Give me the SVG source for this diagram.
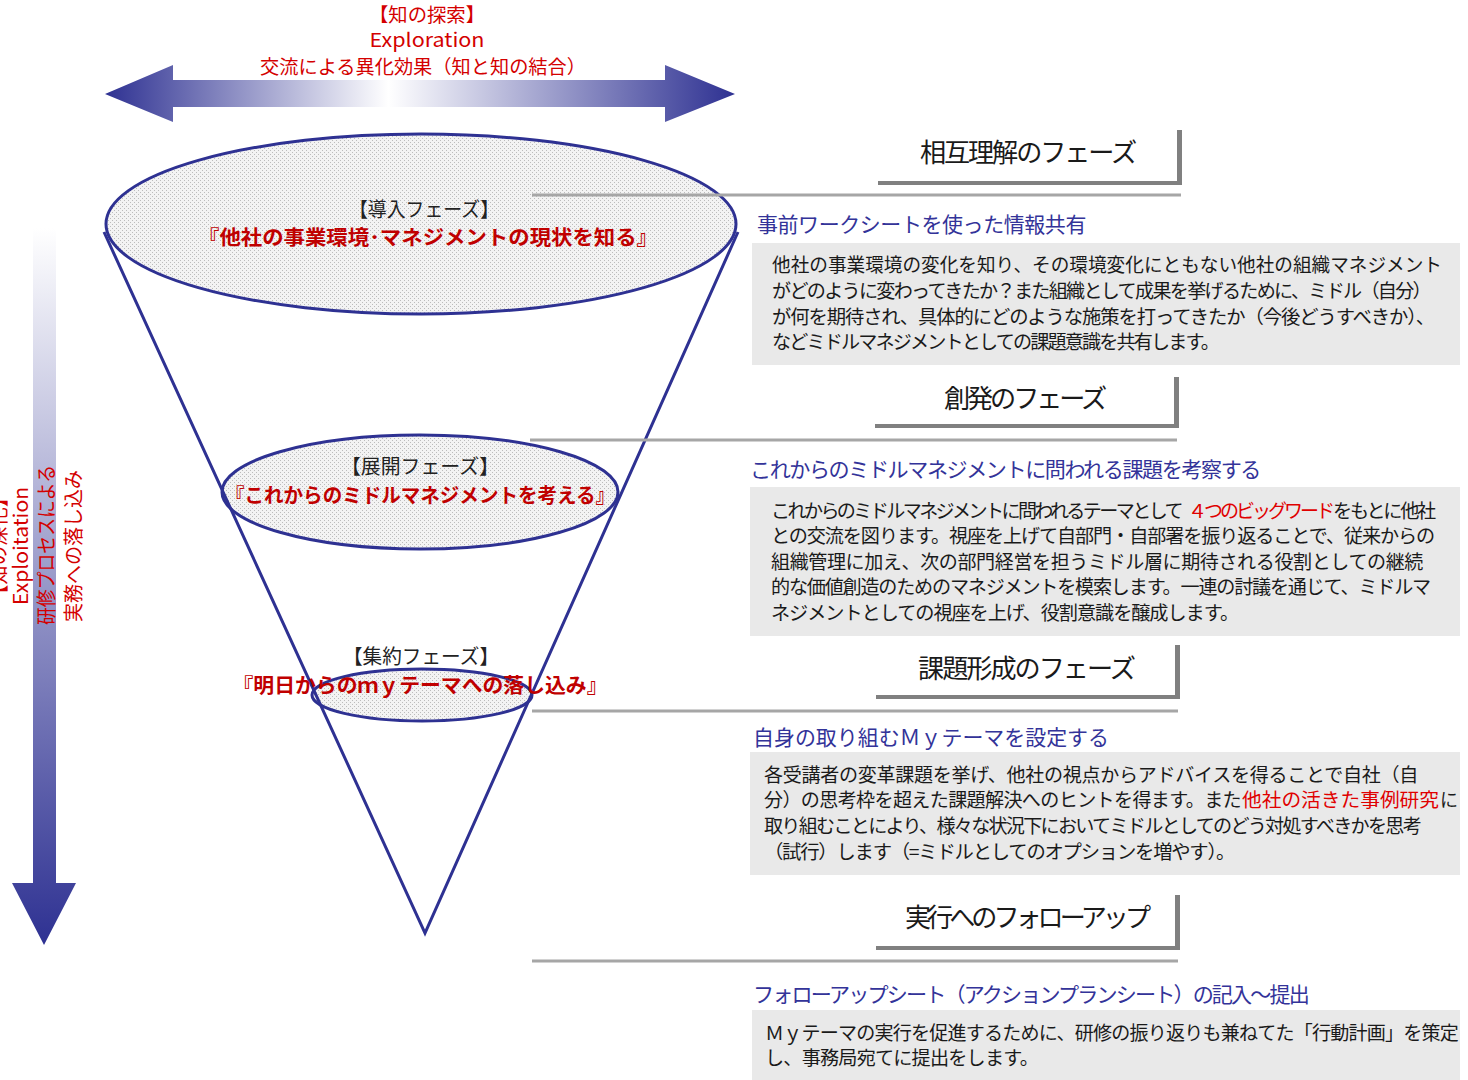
<svg xmlns="http://www.w3.org/2000/svg" width="1468" height="1080" viewBox="0 0 1468 1080">
<defs>
<style>
text{font-family:"Noto Sans CJK JP","Noto Sans CJK SC",sans-serif}
.red{fill:#d40000;font-size:20px}
.top{fill:#d40000;font-size:19px}
.ph{fill:#222;font-size:20px}
.ttl{fill:#c00000;font-size:20px;font-weight:bold}
.hd{fill:#1a1a1a;font-size:26px}
.sub{fill:#333399;font-size:21px}
.body{fill:#1a1a1a;font-size:19px}
.hl{fill:#e00000;font-size:19px}
.ell{fill:url(#dots);stroke:#2e3192;stroke-width:3}
.cone{fill:none;stroke:#2e3192;stroke-width:3}
.conn{stroke:#a6a6a6;stroke-width:3}
.shadow{fill:#808080}
.box{fill:#e9e9e9}
</style>
<pattern id="dots" width="4" height="4" patternUnits="userSpaceOnUse">
<rect width="4" height="4" fill="#f3f3f3"/>
<rect x="0" y="0" width="1" height="1" fill="#bcbcbc"/>
<rect x="2" y="2" width="1" height="1" fill="#bcbcbc"/>
</pattern>
<linearGradient id="hg" gradientUnits="userSpaceOnUse" x1="105" y1="0" x2="735" y2="0">
<stop offset="0" stop-color="#2e3192"/>
<stop offset="0.45" stop-color="#ffffff"/>
<stop offset="1" stop-color="#2e3192"/>
</linearGradient>
<linearGradient id="vg" gradientUnits="userSpaceOnUse" x1="0" y1="228" x2="0" y2="945">
<stop offset="0" stop-color="#ffffff"/>
<stop offset="1" stop-color="#2e3192"/>
</linearGradient>
</defs>

<g id="exploration">
<path d="M105,94 L173,65 L173,80 L665,80 L665,65 L735,94 L665,122 L665,107 L173,107 L173,122 Z" fill="url(#hg)"/>
<text class="top" x="427" y="22" text-anchor="middle" textLength="116" lengthAdjust="spacingAndGlyphs">【知の探索】</text>
<text class="top" x="427" y="47" text-anchor="middle" textLength="115" lengthAdjust="spacingAndGlyphs">Exploration</text>
<text class="top" x="423" y="74" text-anchor="middle" textLength="326" lengthAdjust="spacingAndGlyphs">交流による異化効果（知と知の結合）</text>
</g>

<g id="exploitation">
<path d="M33,228 L56,228 L56,883 L76,883 L44,945 L12,883 L33,883 Z" fill="url(#vg)"/>
<text class="red" transform="translate(6,546) rotate(-90)" text-anchor="middle" textLength="116" lengthAdjust="spacingAndGlyphs">【知の深化】</text>
<text class="red" transform="translate(28,546) rotate(-90)" text-anchor="middle" textLength="118" lengthAdjust="spacingAndGlyphs">Exploitation</text>
<text class="red" transform="translate(54,545) rotate(-90)" text-anchor="middle" textLength="160" lengthAdjust="spacingAndGlyphs">研修プロセスによる</text>
<text class="red" transform="translate(81,546) rotate(-90)" text-anchor="middle" textLength="152" lengthAdjust="spacingAndGlyphs">実務への落し込み</text>
</g>

<g id="funnel">
<ellipse id="ell-intro" class="ell" cx="421" cy="224" rx="315" ry="90"/>
<ellipse id="ell-develop" class="ell" cx="420" cy="492" rx="198" ry="57"/>
<ellipse id="ell-converge" class="ell" cx="422" cy="695" rx="110" ry="26"/>
<path class="cone" d="M104,232 L425,933 L738,232"/>
</g>

<g id="connectors">
<line class="conn" x1="532" y1="195" x2="1181" y2="195"/>
<line class="conn" x1="530" y1="440" x2="1177" y2="440"/>
<line class="conn" x1="532" y1="711" x2="1178" y2="711"/>
<line class="conn" x1="532" y1="961" x2="1178" y2="961"/>
</g>

<g id="phase-intro">
<text class="ph" x="424" y="217" text-anchor="middle" textLength="150" lengthAdjust="spacingAndGlyphs">【導入フェーズ】</text>
<text class="ttl" x="428" y="245" text-anchor="middle" textLength="460" lengthAdjust="spacingAndGlyphs">『他社の事業環境･マネジメントの現状を知る』</text>
</g>
<g id="phase-develop">
<text class="ph" x="420" y="474" text-anchor="middle" textLength="158" lengthAdjust="spacingAndGlyphs">【展開フェーズ】</text>
<text class="ttl" x="420" y="503" text-anchor="middle" textLength="390" lengthAdjust="spacingAndGlyphs">『これからのミドルマネジメントを考える』</text>
</g>
<g id="phase-converge">
<text class="ph" x="421" y="664" text-anchor="middle" textLength="156" lengthAdjust="spacingAndGlyphs">【集約フェーズ】</text>
<text class="ttl" x="420" y="693" text-anchor="middle" textLength="375" lengthAdjust="spacingAndGlyphs">『明日からのｍｙテーマへの落し込み』</text>
</g>

<g id="header-mutual">
<rect class="shadow" x="878" y="181" width="304" height="4"/>
<rect class="shadow" x="1177" y="130" width="5" height="55"/>
<text class="hd" x="920" y="162" letter-spacing="-2.1" textLength="215" lengthAdjust="spacingAndGlyphs">相互理解のフェーズ</text>
</g>
<g id="detail-mutual">
<text class="sub" x="757" y="232" letter-spacing="-0.4" textLength="329" lengthAdjust="spacingAndGlyphs">事前ワークシートを使った情報共有</text>
<rect class="box" x="752" y="243" width="708" height="122"/>
<text class="body" x="772" y="272" textLength="670" lengthAdjust="spacingAndGlyphs">他社の事業環境の変化を知り、その環境変化にともない他社の組織マネジメント</text>
<text class="body" x="772" y="298" letter-spacing="-1.7" textLength="658" lengthAdjust="spacingAndGlyphs">がどのように変わってきたか？また組織として成果を挙げるために、ミドル（自分）</text>
<text class="body" x="772" y="324" letter-spacing="-1.1" textLength="662" lengthAdjust="spacingAndGlyphs">が何を期待され、具体的にどのような施策を打ってきたか（今後どうすべきか）、</text>
<text class="body" x="772" y="349" letter-spacing="-1.85" textLength="446" lengthAdjust="spacingAndGlyphs">などミドルマネジメントとしての課題意識を共有します。</text>
</g>

<g id="header-create">
<rect class="shadow" x="875" y="424" width="304" height="4"/>
<rect class="shadow" x="1174" y="377" width="5" height="51"/>
<text class="hd" x="944" y="408" letter-spacing="-3.1" textLength="160" lengthAdjust="spacingAndGlyphs">創発のフェーズ</text>
</g>
<g id="detail-create">
<text class="sub" x="750" y="477" letter-spacing="-1.4" textLength="510" lengthAdjust="spacingAndGlyphs">これからのミドルマネジメントに問われる課題を考察する</text>
<rect class="box" x="750" y="487" width="710" height="149"/>
<text class="body" x="771" y="518" letter-spacing="-2.6" textLength="410" lengthAdjust="spacingAndGlyphs">これからのミドルマネジメントに問われるテーマとして</text>
<text class="hl" x="1188" y="518" letter-spacing="-3" textLength="144" lengthAdjust="spacingAndGlyphs">４つのビッグワード</text>
<text class="body" x="1333" y="518" letter-spacing="-2.2" textLength="101" lengthAdjust="spacingAndGlyphs">をもとに他社</text>
<text class="body" x="771" y="543" letter-spacing="-1.1" textLength="663" lengthAdjust="spacingAndGlyphs">との交流を図ります。視座を上げて自部門・自部署を振り返ることで、従来からの</text>
<text class="body" x="771" y="569" letter-spacing="-0.4" textLength="652" lengthAdjust="spacingAndGlyphs">組織管理に加え、次の部門経営を担うミドル層に期待される役割としての継続</text>
<text class="body" x="771" y="594" letter-spacing="-1.2" textLength="659" lengthAdjust="spacingAndGlyphs">的な価値創造のためのマネジメントを模索します。一連の討議を通じて、ミドルマ</text>
<text class="body" x="771" y="620" letter-spacing="-1.05" textLength="467" lengthAdjust="spacingAndGlyphs">ネジメントとしての視座を上げ、役割意識を醸成します。</text>
</g>

<g id="header-issue">
<rect class="shadow" x="876" y="695" width="304" height="4"/>
<rect class="shadow" x="1175" y="645" width="5" height="54"/>
<text class="hd" x="918" y="678" letter-spacing="-2" textLength="216" lengthAdjust="spacingAndGlyphs">課題形成のフェーズ</text>
</g>
<g id="detail-issue">
<text class="sub" x="753" y="745" textLength="356" lengthAdjust="spacingAndGlyphs">自身の取り組むＭｙテーマを設定する</text>
<rect class="box" x="750" y="752" width="710" height="123"/>
<text class="body" x="764" y="782" letter-spacing="-0.3" textLength="654" lengthAdjust="spacingAndGlyphs">各受講者の変革課題を挙げ、他社の視点からアドバイスを得ることで自社（自</text>
<text class="body" x="764" y="807" letter-spacing="-0.65" textLength="477" lengthAdjust="spacingAndGlyphs">分）の思考枠を超えた課題解決へのヒントを得ます。また</text>
<text class="hl" x="1242" y="807" textLength="197" lengthAdjust="spacingAndGlyphs">他社の活きた事例研究</text>
<text class="body" x="1440" y="807" textLength="18" lengthAdjust="spacingAndGlyphs">に</text>
<text class="body" x="764" y="833" letter-spacing="-1.75" textLength="656" lengthAdjust="spacingAndGlyphs">取り組むことにより、様々な状況下においてミドルとしてのどう対処すべきかを思考</text>
<text class="body" x="764" y="859" letter-spacing="-1.2" textLength="470" lengthAdjust="spacingAndGlyphs">（試行）します（=ミドルとしてのオプションを増やす）。</text>
</g>

<g id="header-follow">
<rect class="shadow" x="876" y="946" width="304" height="4"/>
<rect class="shadow" x="1175" y="895" width="5" height="55"/>
<text class="hd" x="905" y="927" letter-spacing="-4" textLength="242" lengthAdjust="spacingAndGlyphs">実行へのフォローアップ</text>
</g>
<g id="detail-follow">
<text class="sub" x="753" y="1002" letter-spacing="-1.85" textLength="555" lengthAdjust="spacingAndGlyphs">フォローアップシート（アクションプランシート）の記入～提出</text>
<rect class="box" x="752" y="1010" width="708" height="70"/>
<text class="body" x="765" y="1040" letter-spacing="-0.8" textLength="693" lengthAdjust="spacingAndGlyphs">Ｍｙテーマの実行を促進するために、研修の振り返りも兼ねてた「行動計画」を策定</text>
<text class="body" x="765" y="1065" letter-spacing="-0.8" textLength="273" lengthAdjust="spacingAndGlyphs">し、事務局宛てに提出をします。</text>
</g>
</svg>
